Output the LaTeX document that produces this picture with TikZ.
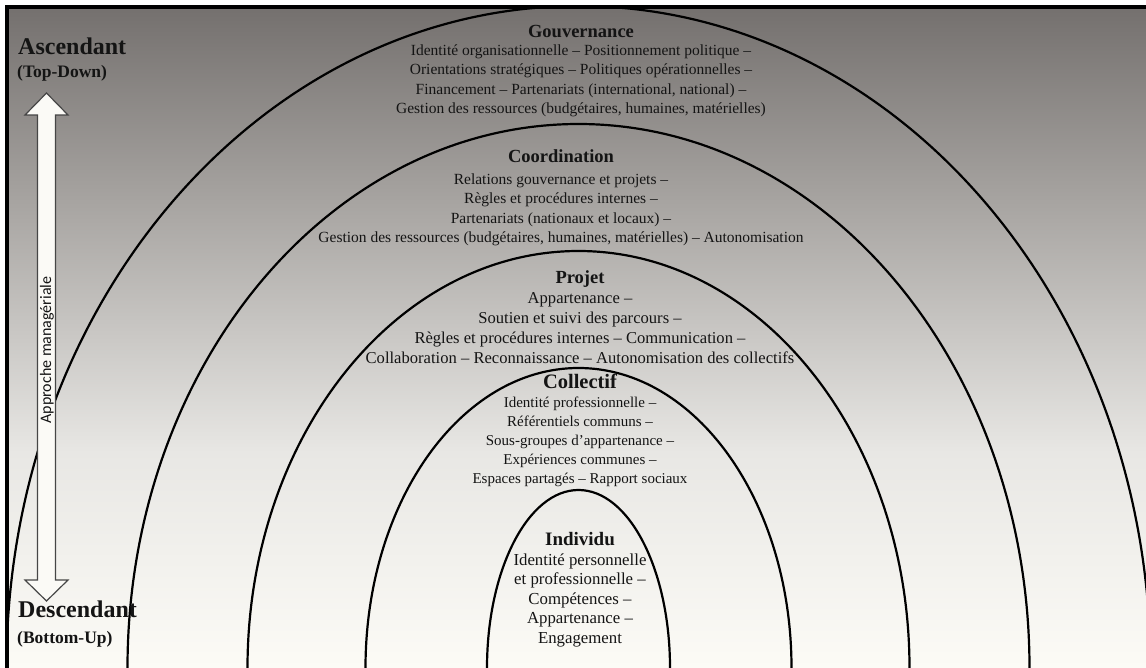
\documentclass[tikz,border=0pt]{standalone}
\usepackage{fontspec}
\setmainfont{Liberation Serif}
\newfontfamily\labelsans{Carlito}
\definecolor{bgA}{RGB}{252,251,246}
\definecolor{bgB}{RGB}{232,231,228}
\definecolor{bgC}{RGB}{168,165,162}
\definecolor{bgD}{RGB}{116,112,110}
\definecolor{arrowfill}{RGB}{251,250,246}
\definecolor{arrowline}{RGB}{70,70,70}
\definecolor{ink}{RGB}{20,20,20}
\pgfdeclareverticalshading{bgshade}{100bp}{color(0bp)=(bgA); color(25bp)=(bgA); color(41.3bp)=(bgB); color(60bp)=(bgC); color(75bp)=(bgD); color(100bp)=(bgD)}
\begin{document}
\begin{tikzpicture}[x=1pt,y=-1pt,
  arch/.style={draw=black, line width=2.2pt},
  blk/.style={align=center, inner sep=0pt, text=ink, anchor=base, font=\fontsize{15.5}{19.5}\selectfont},
  side/.style={inner sep=0pt, text=ink, anchor=base west},
  frame/.style={draw=black, line width=3.5pt}]
\useasboundingbox (0,0) rectangle (1146,668);
\fill[white] (0,0) rectangle (1146,668);
% shaded background
\shade[shading=bgshade] (7,7) rectangle (1146,668);
% nested arches, all standing on the lower edge
\begin{scope}
  \clip (7,7) rectangle (1146,668);
  \foreach \a/\b in {572/662, 451/544, 331/417, 213/300, 91.5/178}
    \draw[arch] (578.5,668) ellipse [x radius=\a pt, y radius=\b pt];
\end{scope}
% frame on top and left
\draw[frame] (7,668) -- (7,7) -- (1146,7);
% double arrow
\draw[fill=arrowfill, draw=arrowline, line width=1.2pt, line join=miter]
  (46.5,93) -- (68,115) -- (55.5,115) -- (55.5,580) -- (68,580) -- (46.5,601)
  -- (25,580) -- (37.5,580) -- (37.5,115) -- (25,115) -- cycle;
\node[rotate=90, inner sep=0pt, text=ink, font=\labelsans\fontsize{16}{18}\selectfont] (approche) at (47,350) {Approche managériale};
% side labels
\node[side, font=\fontsize{24}{28}\selectfont\bfseries] (asc) at (18,55) {Ascendant};
\node[side, font=\fontsize{17.5}{20}\selectfont\bfseries] (td) at (17,78) {(Top-Down)};
\node[side, font=\fontsize{24}{28}\selectfont\bfseries] (desc) at (18,617) {Descendant};
\node[side, font=\fontsize{17.5}{20}\selectfont\bfseries] (bu) at (17,643) {(Bottom-Up)};
% level descriptions (anchored on the baseline of their last line)
\newcommand\lvl[2][18.5]{{\fontsize{#1}{19.5}\selectfont\bfseries #2}}
\node[blk] (gouv) at (581,114) {\lvl{Gouvernance}\\[-1.5pt]
  Identité organisationnelle – Positionnement politique –\\
  Orientations stratégiques – Politiques opérationnelles –\\
  Financement – Partenariats (international, national) –\\
  Gestion des ressources (budgétaires, humaines, matérielles)};
\node[blk] (coord) at (561,243) {\lvl{Coordination}\\[2pt]
  Relations gouvernance et projets –\\
  Règles et procédures internes –\\
  Partenariats (nationaux et locaux) –\\
  Gestion des ressources (budgétaires, humaines, matérielles) – Autonomisation};
\node[blk, font=\fontsize{16.6}{19.8}\selectfont] (projet) at (580,363) {\lvl{Projet}\\
  Appartenance –\\
  Soutien et suivi des parcours –\\
  Règles et procédures internes – Communication –\\
  Collaboration – Reconnaissance – Autonomisation des collectifs};
\node[blk, font=\fontsize{15}{19}\selectfont] (coll) at (580,483) {\lvl[20.5]{Collectif}\\
  Identité professionnelle –\\
  Référentiels communs –\\
  Sous-groupes d’appartenance –\\
  Expériences communes –\\
  Espaces partagés – Rapport sociaux};
\node[blk, font=\fontsize{16.8}{19.5}\selectfont] (indiv) at (580,643) {\lvl[19]{Individu}\\
  Identité personnelle\\
  et professionnelle –\\
  Compétences –\\
  Appartenance –\\
  Engagement};
\end{tikzpicture}
\end{document}
